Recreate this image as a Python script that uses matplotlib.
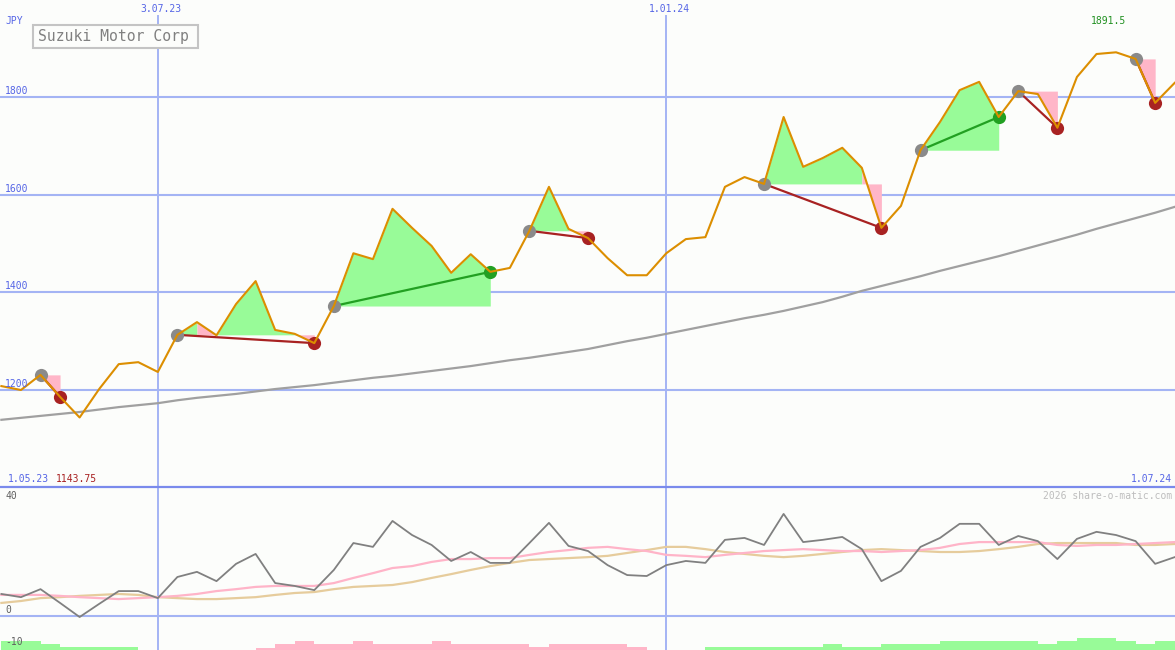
import matplotlib
matplotlib.use('Agg')
import matplotlib.pyplot as plt
import matplotlib.dates as mdates
from matplotlib.lines import Line2D
from matplotlib.patches import Rectangle
import pandas as pd

# ---------------- data ----------------
start_date = '2023-05-08'
n_weeks = 61
price = [1208, 1200, 1231, 1186, 1143.75, 1202, 1253, 1257, 1237, 1313,
         1339, 1312, 1376, 1423, 1323, 1315, 1296, 1372, 1480, 1468,
         1571, 1532, 1495, 1440, 1478, 1442, 1450, 1526, 1616, 1530,
         1511, 1470, 1435, 1435, 1480, 1509, 1513, 1616, 1636, 1622,
         1759, 1657, 1675, 1696, 1655, 1532, 1577, 1691, 1749, 1814,
         1831, 1759, 1812, 1806, 1737, 1841, 1888, 1891.5, 1878, 1788,
         1829]
long_ma = [1139, 1143, 1147, 1151, 1155, 1160, 1165, 1169, 1173, 1179,
           1184, 1188, 1192, 1197, 1202, 1206, 1210, 1215, 1220, 1225,
           1229, 1234, 1239, 1244, 1249, 1255, 1261, 1266, 1272, 1278,
           1284, 1292, 1300, 1307, 1315, 1323, 1331, 1339, 1347, 1354,
           1362, 1371, 1380, 1391, 1403, 1413, 1423, 1433, 1444, 1454,
           1464, 1474, 1485, 1496, 1507, 1518, 1530, 1541, 1552, 1563,
           1575]
entry_idx = [2, 9, 17, 27, 39, 47, 52, 58]
exit_idx = [3, 16, 25, 30, 45, 51, 54, 59]

osc = [6.9, 5.9, 8.4, 4.1, -0.3, 3.8, 7.8, 7.8, 5.6, 12.2,
       13.8, 10.9, 16.3, 19.4, 10.3, 9.4, 8.1, 14.4, 22.8, 21.6,
       29.7, 25.3, 22.2, 17.2, 20.0, 16.6, 16.6, 22.8, 29.1, 21.9,
       20.3, 15.9, 12.8, 12.5, 15.9, 17.2, 16.6, 23.8, 24.4, 22.2,
       31.9, 23.1, 23.8, 24.7, 20.9, 10.9, 14.1, 21.6, 24.4, 28.8,
       28.8, 22.2, 25.0, 23.4, 17.8, 24.1, 26.3, 25.3, 23.4, 16.3,
       18.4]
osc_fast = [6.6, 6.6, 6.6, 6.3, 5.9, 5.6, 5.3, 5.6, 5.9, 6.3,
            6.9, 7.8, 8.4, 9.1, 9.4, 9.4, 9.4, 10.3, 11.9, 13.4,
            15.0, 15.6, 16.9, 17.8, 17.8, 18.1, 18.1, 19.1, 20.0, 20.6,
            21.3, 21.6, 20.9, 20.3, 19.1, 18.8, 18.4, 19.1, 19.7, 20.3,
            20.6, 20.9, 20.6, 20.3, 20.3, 20.0, 20.3, 20.6, 21.3, 22.5,
            23.1, 23.1, 23.1, 23.1, 22.2, 21.9, 22.2, 22.2, 22.5, 22.8,
            23.1]
osc_slow = [4.1, 4.7, 5.6, 5.9, 6.3, 6.6, 6.9, 6.6, 5.9, 5.6,
            5.3, 5.3, 5.6, 5.9, 6.6, 7.2, 7.5, 8.4, 9.1, 9.4,
            9.7, 10.6, 11.9, 13.1, 14.4, 15.6, 16.6, 17.5, 17.8, 18.1,
            18.4, 18.8, 19.7, 20.6, 21.6, 21.6, 20.9, 20.0, 19.4, 18.8,
            18.4, 18.8, 19.4, 20.0, 20.6, 20.9, 20.6, 20.3, 20.0, 20.0,
            20.3, 20.9, 21.6, 22.5, 22.8, 22.8, 22.8, 22.8, 22.2, 22.2,
            22.5]
hist = [2.8, 2.8, 1.9, 0.9, 0.9, 0.9, 0.9, 0, 0, 0,
        0, 0, 0, -0.6, -1.9, -2.8, -1.9, -1.9, -2.8, -1.9,
        -1.9, -1.9, -2.8, -1.9, -1.9, -1.9, -1.9, -0.9, -1.9, -1.9,
        -1.9, -1.9, -0.9, 0, 0, 0, 0.9, 0.9, 0.9, 0.9,
        0.9, 0.9, 1.9, 0.9, 0.9, 1.9, 1.9, 1.9, 2.8, 2.8,
        2.8, 2.8, 2.8, 1.9, 2.8, 3.8, 3.8, 2.8, 1.9, 2.8,
        2.8]

title = 'Suzuki Motor Corp'
currency = 'JPY'
price_ticks = [1200, 1400, 1600, 1800]
osc_ticks = [40, 0, -10]
marker_dates = ['2023-07-03', '2024-01-01']
start_label = '1.05.23'
end_label = '1.07.24'
min_label = '1143.75'
max_label = '1891.5'
credit = '2026 share-o-matic.com'

# ---------------- style ----------------
W, H = 1175, 650
BG = '#fcfdfb'
GRID = '#a4b4f4'
SEP = '#7a8aec'
BLUE = '#5565e6'
ORANGE = '#dc8e00'
GREENF = '#98fb98'
PINKF = '#ffb6c8'
FONT = 'DejaVu Sans Mono'

dates = pd.date_range(start_date, periods=n_weeks, freq='7D')
x = mdates.date2num(dates)
x0 = x[0] - 0.5
x1 = x0 + 420.6

fig = plt.figure(figsize=(W / 100, H / 100), dpi=100, facecolor=BG)
split = 163 / H
ax = fig.add_axes([0, split, 1, 1 - split])
ax2 = fig.add_axes([0, 0, 1, split])
for a in (ax, ax2):
    a.set_facecolor(BG)
    a.set_xlim(x0, x1)
    for s in a.spines.values():
        s.set_visible(False)
    a.set_xticks([])
    a.set_yticks([])
ax.set_ylim(1001.4, 1998.6)
ax2.set_ylim(-10.6, 40.3)

# grid
for lvl in price_ticks:
    ax.axhline(lvl, color=GRID, lw=1.5, zorder=1)
ax2.axhline(0, color=GRID, lw=1.5, zorder=1)
for d in marker_dates:
    xd = mdates.date2num(pd.Timestamp(d))
    ax.axvline(xd, ymin=0, ymax=(487 - 16) / 487, color=GRID, lw=1.4, zorder=1)
    ax2.axvline(xd, color=GRID, lw=1.4, zorder=1)
fig.add_artist(Line2D([0, 1], [split, split], transform=fig.transFigure,
                      color=SEP, lw=1.6, zorder=5))

# trade fills: each segment coloured by whether it ends above the entry level;
# consecutive segments of one colour are merged into one polygon
for a_i, b_i in zip(entry_idx, exit_idx):
    lvl = price[a_i]
    cols = [GREENF if price[j + 1] > lvl else PINKF for j in range(a_i, b_i)]
    j = a_i
    while j < b_i:
        c = cols[j - a_i]
        k = j
        while k + 1 < b_i and cols[k + 1 - a_i] == c:
            k += 1
        ax.fill_between(x[j:k + 2], lvl, price[j:k + 2], color=c,
                        lw=0, zorder=2)
        j = k + 1

# long moving average
ax.plot(x, long_ma, color='#a0a0a0', lw=1.6, zorder=3)

# trade lines and markers
for a_i, b_i in zip(entry_idx, exit_idx):
    win = price[b_i] > price[a_i]
    col = '#22a022' if win else '#a82222'
    ax.plot([x[a_i], x[b_i]], [price[a_i], price[b_i]], color=col, lw=1.6, zorder=4)
    ax.plot(x[a_i], price[a_i], 'o', ms=9.5, color='#8a8a8a', mec='none', zorder=5)
    ax.plot(x[b_i], price[b_i], 'o', ms=9.5, color=col, mec='none', zorder=5)

# price line
ax.plot(x, price, color=ORANGE, lw=1.5, zorder=6)

# lower panel
bottom = -10.6
for xi, h in zip(x, hist):
    if h != 0:
        ax2.bar(xi, abs(h), width=7, bottom=bottom, align='edge',
                color=GREENF if h > 0 else PINKF, lw=0, zorder=2)
ax2.plot(x, osc_slow, color='#e6cc9c', lw=1.6, zorder=3)
ax2.plot(x, osc_fast, color='#ffb4c8', lw=1.6, zorder=3)
ax2.plot(x, osc, color='#808080', lw=1.3, zorder=4)


def ptext(px, py, s, **kw):
    kw.setdefault('family', FONT)
    kw.setdefault('fontsize', 7)
    fig.text(px / W, 1 - py / H, s, va='center', **kw)


def ylab(v):
    return 97 + (1800 - v) * 0.48833


ptext(5, 21, currency, color=BLUE)
for lvl in price_ticks:
    ptext(5, ylab(lvl) - 6, str(lvl), color=BLUE)
for d in marker_dates:
    ts = pd.Timestamp(d)
    lab = f'{ts.day}.{ts:%m.%y}'
    px = (mdates.date2num(ts) - x0) / (x1 - x0) * W
    ptext(px + 3, 9, lab, color=BLUE, ha='center')

fig.add_artist(Rectangle((33 / W, 1 - 48 / H), 165 / W, 23 / H,
                         transform=fig.transFigure, facecolor=BG,
                         edgecolor='#c4c4c4', lw=1.5, zorder=10))
ptext(38, 36.5, title, color='#808080', fontsize=10.6, zorder=11)

ptext(1108, 21, max_label, color='#209020', ha='center')
ptext(8, 479, start_label, color=BLUE)
ptext(56, 479, min_label, color='#a82020')
ptext(1172, 479, end_label, color=BLUE, ha='right')
ptext(1172, 496, credit, color='#bdbdbd', ha='right')

for v in osc_ticks:
    py = 616 - v * 3.2
    if v == 40:
        py = 496
    else:
        py = py - 6
    ptext(5, py, str(v), color='#606060')

fig.savefig('out.png', dpi=100, facecolor=BG)
